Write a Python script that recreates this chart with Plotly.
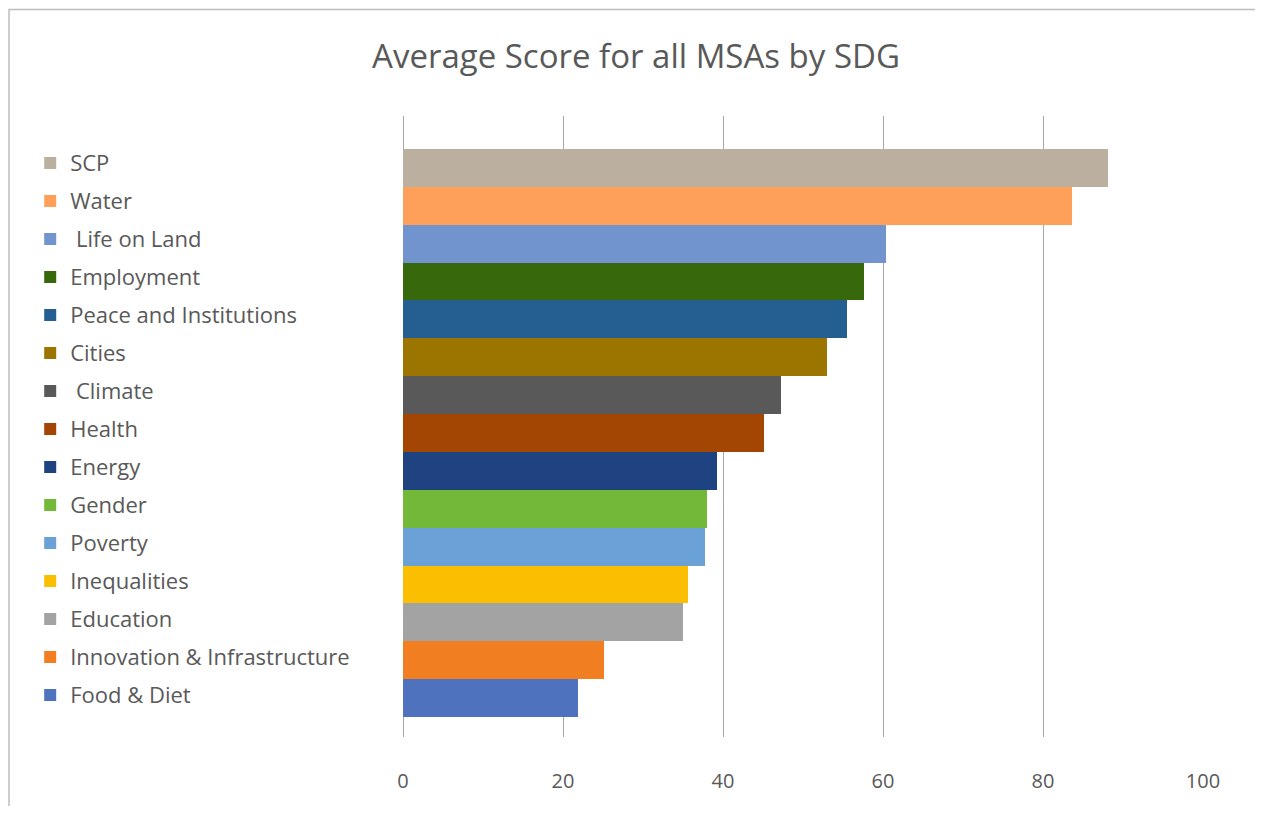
import plotly.graph_objects as go

# top-to-bottom order, as in the legend
sdgs = ["SCP", "Water", "\u00a0Life on Land", "Employment", "Peace and Institutions",
        "Cities", "\u00a0Climate", "Health", "Energy", "Gender", "Poverty",
        "Inequalities", "Education", "Innovation & Infrastructure", "Food & Diet"]
scores = [88.1, 83.6, 60.4, 57.6, 55.5, 53.0, 47.3, 45.1, 39.3, 38.0, 37.8,
          35.6, 35.0, 25.1, 21.9]
colors = ["#BBAFA0", "#FFA05A", "#7294CE", "#37680C", "#255E91", "#9C7400",
          "#595959", "#A34603", "#1F4380", "#74B83A", "#6AA1D6", "#FBBE00",
          "#A3A3A3", "#F27E22", "#4E72BE"]
x_ticks = [0, 20, 40, 60, 80, 100]

FONT = "Open Sans"
GREY = "#595959"

fig = go.Figure()
for name, val, col in zip(sdgs, scores, colors):
    fig.add_trace(go.Bar(x=[val], y=[name], orientation="h", name=name,
                         legendgroup=name, marker=dict(color=col, line=dict(width=0))))

fig.update_layout(
    width=1255, height=798,
    barmode="stack", bargap=0,
    plot_bgcolor="white", paper_bgcolor="white",
    margin=dict(l=395, r=60, t=108, b=66),
    font=dict(family=FONT, color=GREY, size=20),
    title=dict(text="Average Score for all MSAs by SDG", x=0.5004, xanchor="center",
               y=0.9398, yanchor="middle", font=dict(size=33, color=GREY, family=FONT)),
    xaxis=dict(range=[0, 100], tickvals=x_ticks, showgrid=True, gridcolor="#A6A6A6",
               gridwidth=1, zeroline=True, zerolinecolor="#A6A6A6", zerolinewidth=1,
               showline=False, ticks="", ticklabelstandoff=30,
               tickfont=dict(size=20, color=GREY)),
    yaxis=dict(categoryorder="array", categoryarray=sdgs[::-1], range=[-1.025, 15.37],
               showticklabels=False, showgrid=False, zeroline=False, ticks=""),
    legend=dict(x=-0.466, xanchor="left", y=0.958, yanchor="top",
                traceorder="grouped", tracegroupgap=6.4,
                font=dict(size=22, color=GREY, family=FONT), bgcolor="rgba(0,0,0,0)"),
    shapes=[dict(type="rect", xref="paper", yref="paper", x0=-0.4925, x1=1.0725,
                 y0=-0.2, y1=1.1715, line=dict(color="#BDBDBD", width=1.5))],
)

fig.write_html("out.html")
